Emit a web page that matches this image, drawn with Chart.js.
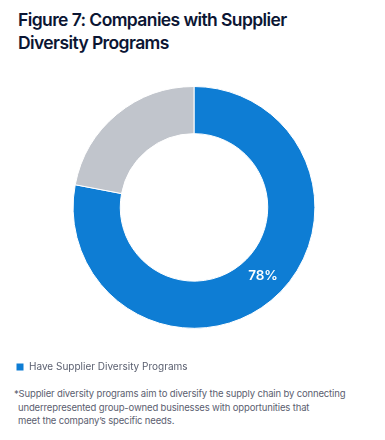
<!DOCTYPE html>
<html>
<head>
<meta charset="utf-8">
<script src="https://cdn.jsdelivr.net/npm/chart.js@4/dist/chart.umd.min.js"></script>
<style>
  html, body { margin: 0; padding: 0; background: #fff; }
  body { width: 385px; height: 440px; position: relative; overflow: hidden; font-family: Inter, "Noto Sans", sans-serif; }
  #title { position: absolute; left: 18px; top: 8px; font-size: 17.5px; font-weight: 600; line-height: 23px; color: #0b1533; letter-spacing: -0.6px; }
  #wrap { position: absolute; left: 0; top: 80px; width: 385px; height: 302px; }
  #note { position: absolute; left: 14px; top: 387px; font-size: 9.5px; line-height: 13.5px; color: #5b6070; letter-spacing: -0.15px; }
  #note .ind { padding-left: 4px; }
</style>
</head>
<body>
<div id="title">Figure 7: Companies with Supplier<br>Diversity Programs</div>
<div id="wrap"><canvas id="c"></canvas></div>
<div id="note">*Supplier diversity programs aim to diversify the supply chain by connecting<br><span class="ind">underrepresented group-owned businesses with opportunities that</span><br><span class="ind">meet the company’s specific needs.</span></div>
<script>
const categories = ["Have Supplier Diversity Programs", "Do Not Have Supplier Diversity Programs"];
const values = [78, 22];
const colors = ["#0e7dd4", "#c1c5cc"];
const labelText = ["78%", ""];

const labelPlugin = {
  id: 'sliceLabels',
  afterDatasetsDraw(chart) {
    const ctx = chart.ctx;
    const meta = chart.getDatasetMeta(0);
    meta.data.forEach((arc, i) => {
      if (!labelText[i]) return;
      const p = arc.tooltipPosition();
      ctx.save();
      ctx.fillStyle = '#ffffff';
      ctx.font = '600 13.5px Inter, "Noto Sans", sans-serif';
      ctx.textAlign = 'center';
      ctx.textBaseline = 'middle';
      ctx.fillText(labelText[i], p.x + 7, p.y - 6);
      ctx.restore();
    });
  }
};

new Chart(document.getElementById('c'), {
  type: 'doughnut',
  data: {
    labels: categories,
    datasets: [{
      data: values,
      backgroundColor: colors,
      borderColor: '#ffffff',
      borderWidth: 1
    }]
  },
  options: {
    responsive: true,
    maintainAspectRatio: false,
    animation: false,
    cutout: '61%',
    layout: { padding: { top: 6, bottom: 0, left: 3 } },
    plugins: {
      legend: {
        position: 'bottom',
        align: 'start',
        title: { display: true, text: ' ', font: { size: 1 }, padding: { top: 0, bottom: 19 } },
        labels: {
          filter: (item) => item.index === 0,
          boxWidth: 8,
          boxHeight: 8,
          padding: 13,
          color: '#5b6070',
          font: { family: 'Inter, "Noto Sans", sans-serif', size: 10 }
        }
      },
      tooltip: { enabled: false }
    }
  },
  plugins: [labelPlugin]
});
</script>
</body>
</html>
